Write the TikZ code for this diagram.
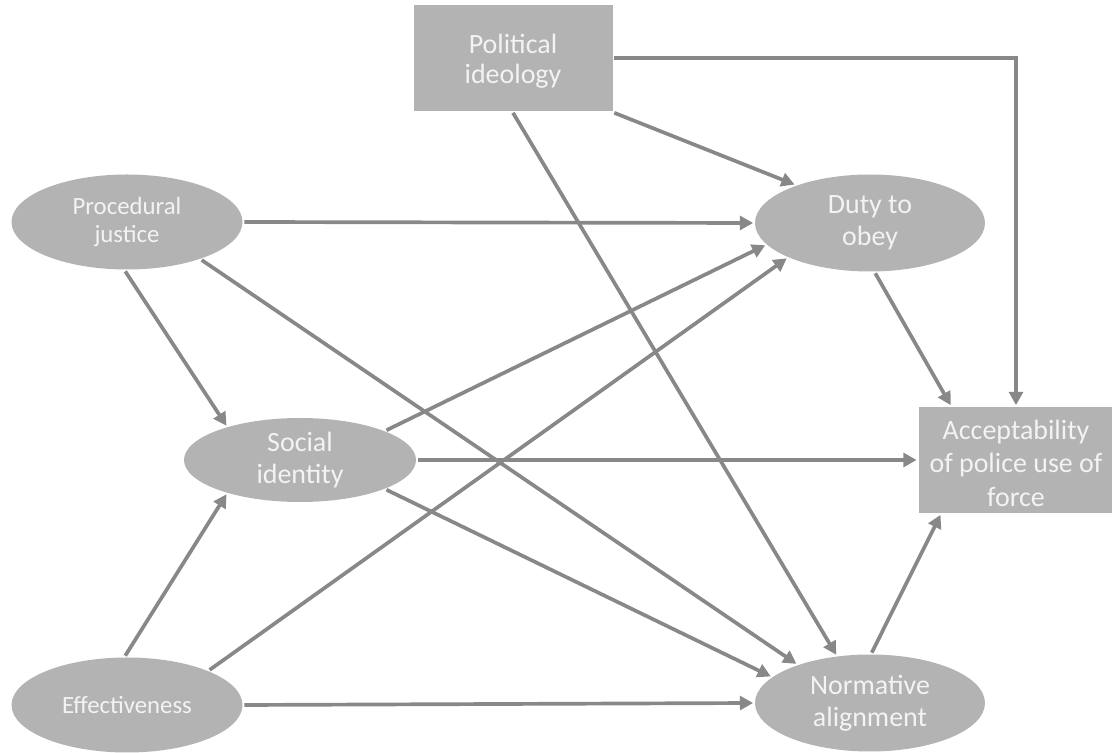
\documentclass[tikz,border=0pt]{standalone}
\usepackage{fontspec}
\setmainfont{Carlito}
\usetikzlibrary{arrows.meta,shapes}
\definecolor{node_gray}{RGB}{179,179,179}
\definecolor{edge_gray}{RGB}{136,136,136}
\definecolor{text_light}{RGB}{243,243,243}
\newcommand\lowered[2]{\raisebox{-#1}[\height][\depth]{\begin{tabular}{@{}c@{}}#2\end{tabular}}}

\begin{document}
\begin{tikzpicture}[->,line width=2.1pt,>={Triangle[length=7.5pt,width=7.8pt]}]
    \tikzstyle{link}=[draw=edge_gray]
    \tikzstyle{factor}=[ellipse, draw=none, fill=node_gray, inner sep=0pt, text=text_light, align=center,
                        minimum width=4.62cm, minimum height=1.9cm, font=\fontsize{15.9}{18.2}\selectfont]
    \tikzstyle{factorsm}=[style=factor, font=\fontsize{14.1}{16}\selectfont]
    \tikzstyle{outcome}=[rectangle, draw=none, fill=node_gray, inner sep=0pt, text=text_light, align=center,
                         font=\fontsize{15.9}{17}\selectfont]

    \useasboundingbox (0,0) rectangle (22.24,15.06);

    \node[outcome, minimum width=3.98cm, minimum height=2.12cm] (ideology) at (10.26,13.90) {\lowered{2.5pt}{Political\\ideology}};
    \node[factorsm]                                   (justice)  at (2.54,10.62)  {Procedural\\justice};
    \node[factor, minimum width=4.64cm, minimum height=1.68cm] (identity) at (6.00,5.86) {Social\\identity};
    \node[factorsm]                                   (effect)   at (2.54,0.96)   {Effectiveness};
    \node[factor, minimum width=4.6cm, minimum height=1.94cm] (duty) at (17.40,10.60) {Duty to\\obey};
    \node[factor, minimum width=4.6cm, minimum height=1.94cm] (norm) at (17.40,1.00)  {Normative\\alignment};
    \node[outcome, minimum width=3.9cm, minimum height=2.12cm, font=\fontsize{15.9}{19.3}\selectfont]
         (accept) at (20.32,5.86) {\lowered{3.5pt}{Acceptability\\of police use of\\force}};

    \path
     (justice.east)      edge[link] (duty.west)
     (justice.268)       edge[link] (identity.155)
     (justice.333)       edge[link] (norm.152)
     (effect.92)         edge[link] (identity.205)
     (effect.23)         edge[link] (duty.203)
     (effect.east)       edge[link] (norm.west)
     (identity.19)       edge[link] (duty.192)
     (identity.east)     edge[link] (accept.west)
     (identity.341)      edge[link] (norm.165)
     (ideology.south east) edge[link] (duty.153)
     (ideology.south)    edge[link] (norm.125)
     (duty.276)          edge[link] (accept.140)
     (norm.88)           edge[link] (accept.216);

    \draw[link] (ideology.east) -| (accept.north);
  \end{tikzpicture}
\end{document}
